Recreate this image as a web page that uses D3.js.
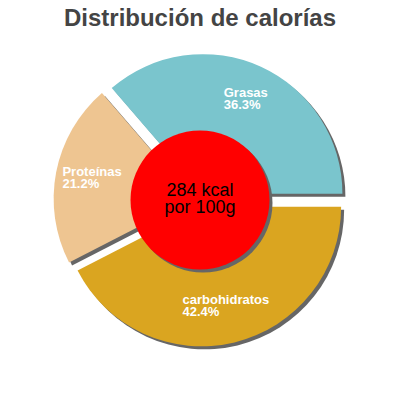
<!DOCTYPE html>
<html lang="es">
<head>
  <meta charset="UTF-8">
  <title>Distribución de calorías</title>
  <script src="https://d3js.org/d3.v7.min.js"></script>
  <style>
    body { margin: 0; background: #fff; }
    text { font-family: 'Liberation Sans', Arial, sans-serif; }
  </style>
</head>
<body>
  <svg width="400" height="400"></svg>

  <script>
    // The data
    const categories = ["carbohidratos", "Proteínas", "Grasas"];
    const percents = [42.4, 21.2, 36.3];
    const colors = ["#daa520", "#eec591", "#7ac5cd"];
    const centerLines = ["284 kcal", "por 100g"];

    const svg = d3.select("svg");
    const cx = 200, cy = 200;
    const radius = 139.5;
    const explode = 7;
    const labelR = 110;

    const data = categories.map((c, i) => ({ name: c, value: percents[i], color: colors[i] }));

    // start at 3 o'clock, clockwise
    const pie = d3.pie()
      .value(d => d.value)
      .sort(null)
      .startAngle(Math.PI / 2)
      .endAngle(Math.PI / 2 + 2 * Math.PI);

    const arc = d3.arc().innerRadius(0).outerRadius(radius);
    const arcs = pie(data);

    const mid = d => (d.startAngle + d.endAngle) / 2;
    const offset = (d, r) => [Math.sin(mid(d)) * r, -Math.cos(mid(d)) * r];

    const g = svg.append("g").attr("transform", "translate(" + cx + "," + cy + ")");

    // shadows
    g.selectAll(".shadow")
      .data(arcs)
      .enter().append("path")
      .attr("class", "shadow")
      .attr("d", arc)
      .attr("fill", "#666")
      .attr("transform", d => {
        const o = offset(d, explode);
        return "translate(" + (o[0] + 3) + "," + (o[1] + 3) + ")";
      });

    // slices
    g.selectAll(".slice")
      .data(arcs)
      .enter().append("path")
      .attr("class", "slice")
      .attr("d", arc)
      .attr("fill", d => d.data.color)
      .attr("transform", d => "translate(" + offset(d, explode) + ")");

    // labels
    arcs.forEach(d => {
      const p = offset(d, labelR);
      const t = g.append("text")
        .style("font-size", "13px")
        .style("font-weight", "bold")
        .style("fill", "white");
      const l1 = t.append("tspan").text(d.data.name);
      const l2 = t.append("tspan").text(d.data.value.toFixed(1) + "%");
      const w = Math.max(l1.node().getComputedTextLength(), l2.node().getComputedTextLength());
      const x0 = p[0] - w / 2;
      l1.attr("x", x0).attr("y", p[1] - 3);
      l2.attr("x", x0).attr("y", p[1] + 9);
    });

    // center circle
    g.append("circle").attr("cx", 3).attr("cy", 3).attr("r", 69.5).attr("fill", "#666");
    g.append("circle").attr("r", 69.5).attr("fill", "#ff0000");

    g.selectAll(".center")
      .data(centerLines)
      .enter().append("text")
      .attr("class", "center")
      .attr("text-anchor", "middle")
      .attr("y", (d, i) => -4 + i * 17)
      .style("font-size", "18px")
      .style("fill", "black")
      .text(d => d);

    // Title
    svg.append("text")
      .attr("x", 200)
      .attr("y", 26)
      .attr("text-anchor", "middle")
      .style("font-size", "24px")
      .style("font-weight", "bold")
      .style("fill", "#444")
      .text("Distribución de calorías");
  </script>
</body>
</html>
